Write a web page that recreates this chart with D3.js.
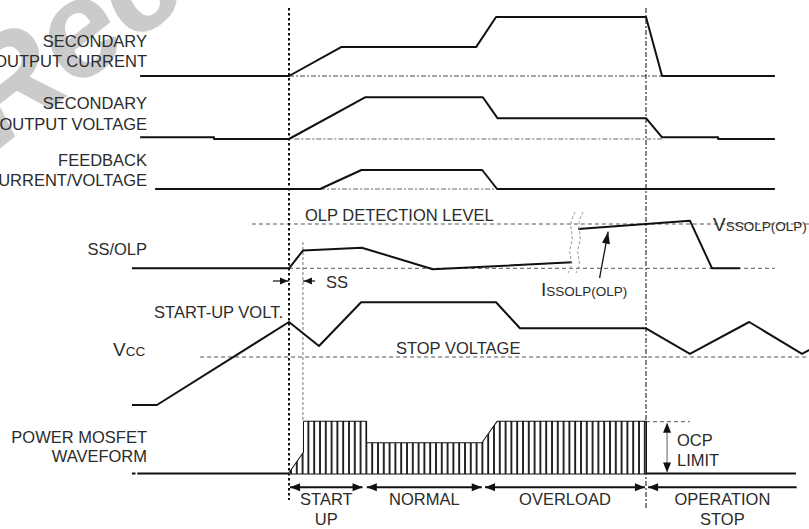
<!DOCTYPE html>
<html><head><meta charset="utf-8">
<script src="https://cdn.jsdelivr.net/npm/d3@7"></script>
<style>
body{margin:0;background:#fff;}
svg{display:block;}
text{font-family:"Liberation Sans",Arial,sans-serif;fill:#2b2b2b;}
</style>
</head><body>
<svg id="c" width="809" height="529"></svg>
<script>
// ---------- DATA (time unit: 0 = start-up, 100 = operation stop; level: 0 = low, 1 = high) ----------
const rowLabels = [["SECONDARY","OUTPUT CURRENT"],["SECONDARY","OUTPUT VOLTAGE"],["FEEDBACK","CURRENT/VOLTAGE"],["SS/OLP"],["POWER MOSFET","WAVEFORM"]];
const currentWave  = [[-41.7,0],[0,0],[14.6,0.49],[52.4,0.49],[58,1],[100,1],[104.5,0],[136.1,0]];
const voltageWave  = [[-41.7,0.04],[-21,0.04],[-21,0],[0,0],[21.3,1],[54.3,1],[58.4,0.5],[100,0.5],[104.5,0.04],[120.2,0.04],[120.2,0],[136.1,0]];
const feedbackWave = [[-37.5,0],[8.7,0],[20.3,1],[54.1,1],[58.3,0],[136.1,0]];
const ssolpWaveA   = [[-44,0],[0,0],[3.9,0.40],[20.4,0.465],[40.3,-0.02],[79.3,0.135]];
const ssolpWaveB   = [[81,0.887],[112.3,1.075],[118.5,0],[126.3,0]];
const vccWave      = [[-44,-1.371],[-37,-1.371],[0,1],[8.4,0.314],[20.2,1.563],[58,1.563],[64.7,0.82],[100,0.82],[112.3,0.09],[128.9,1],[143.7,0.09],[147,0.27]];
const mosfetEnvelope = [[0,0],[4.2,0.41],[4.2,1],[21.6,1],[21.6,0.583],[54.1,0.583],[58.4,1],[100,1],[100,0]];
const mosfetEdges  = [4.2,21.6,54.1,58.4,100];
const mosfetBase   = [-42.5,142];
const phases = [
  {label:["START","UP"], from:0.3, to:20.6, heads:2},
  {label:["NORMAL"], from:21.8, to:54.0, heads:2},
  {label:["OVERLOAD"], from:54.9, to:99.7, heads:2},
  {label:["OPERATION","STOP"], from:100.6, to:142.2, heads:1}
];
const events = {startUp:0, ssEnd:3.9, stop:100};
const guideLevels = {olpFrom:-10.4, olpTo:146, stopFrom:-24.9, stopTo:146};
const annotations = {olp:"OLP DETECTION LEVEL", stopV:"STOP VOLTAGE", startV:"START-UP VOLT.", ss:"SS", ocp:["OCP","LIMIT"]};
const watermark = ["Not","Recommended"];

// ---------- SCALES ----------
const svg = d3.select("#c");
const x = d3.scaleLinear().domain([0,100]).range([289,646]);
const rowScale = (base, top) => d3.scaleLinear().domain([0,1]).range([base, top]);
const yCur = rowScale(76,17), yVol = rowScale(139,97.3), yFb = rowScale(189,170),
      ySs = rowScale(268.3,224), yVcc = rowScale(357,322), yMos = rowScale(473.5,421.7);
const lineOf = ys => d3.line().x(d=>x(d[0])).y(d=>ys(d[1]));

// ---------- DEFS ----------
const defs = svg.append("defs");
const pat = defs.append("pattern").attr("id","hatch").attr("patternUnits","userSpaceOnUse")
  .attr("width",5.8).attr("height",10);
pat.append("rect").attr("width",5.8).attr("height",10).attr("fill","#fff");
pat.append("line").attr("x1",1).attr("x2",1).attr("y1",0).attr("y2",10).attr("stroke","#111").attr("stroke-width",1.8);

// ---------- WATERMARK ----------
const wm = svg.append("g").attr("transform","translate(-2,150) rotate(-38)")
  .style("font-family","'Liberation Serif',serif").style("font-weight","bold").style("font-style","italic")
  .style("font-size","135px");
wm.append("text").text(watermark[0]).attr("x",-34).attr("text-anchor","end").style("fill","#cbcbcb");
wm.append("text").text(watermark[1]).attr("x",0).style("fill","#cbcbcb");

// ---------- GUIDES ----------
const g = svg.append("g");
const dashDot = "5,2,2,2";
function hline(t0,t1,y,dash,col,w){
  g.append("line").attr("x1",x(t0)).attr("x2",x(t1)).attr("y1",y).attr("y2",y)
   .attr("stroke",col||"#444").attr("stroke-width",w||1).attr("stroke-dasharray",dash);
}
hline(0,104.5,yCur(0),dashDot);
hline(1.5,104.5,yVol(0),dashDot,"#666");
hline(8.7,58.3,yFb(0),dashDot,"#666");
hline(0,136.1,ySs(0),"4,3","#555");
hline(guideLevels.olpFrom,guideLevels.olpTo,ySs(1),"4,3","#555");
hline(guideLevels.stopFrom,guideLevels.stopTo,yVcc(0),"4,3","#555");
hline(100,112.3,yMos(1),"4,3","#555");

// vertical event lines
g.append("line").attr("x1",x(events.startUp)).attr("x2",x(events.startUp)).attr("y1",8).attr("y2",500)
  .attr("stroke","#111").attr("stroke-width",2).attr("stroke-dasharray","2.5,2.5");
g.append("line").attr("x1",x(events.ssEnd)).attr("x2",x(events.ssEnd)).attr("y1",242).attr("y2",421)
  .attr("stroke","#777").attr("stroke-width",1).attr("stroke-dasharray","3,2");
g.append("line").attr("x1",x(events.stop)).attr("x2",x(events.stop)).attr("y1",8).attr("y2",510)
  .attr("stroke","#222").attr("stroke-width",1.1).attr("stroke-dasharray",dashDot);

// ---------- WAVEFORMS ----------
const w = svg.append("g").attr("fill","none").attr("stroke","#111").attr("stroke-width",2).attr("stroke-linejoin","round");
w.append("path").attr("d",lineOf(yCur)(currentWave));
w.append("path").attr("d",lineOf(yVol)(voltageWave));
w.append("path").attr("d",lineOf(yFb)(feedbackWave));
w.append("path").attr("d",lineOf(ySs)(ssolpWaveA));
w.append("path").attr("d",lineOf(ySs)(ssolpWaveB));
w.append("path").attr("d",lineOf(yVcc)(vccWave));

// break squiggles
const sq = d3.line().curve(d3.curveBasis);
[0,8].forEach(o=>{
  svg.append("path").attr("d",sq([[575+o,212],[569+o,224],[574+o,238],[568+o,252],[573+o,263],[568+o,273]]))
    .attr("fill","none").attr("stroke","#999").attr("stroke-width",1).attr("stroke-dasharray","3,2");
});

// MOSFET
svg.append("path").attr("d",lineOf(yMos)(mosfetEnvelope)+"Z").attr("fill","url(#hatch)").attr("stroke","none");
w.append("path").attr("d",lineOf(yMos)(mosfetEnvelope));
w.append("line").attr("x1",x(-44)).attr("x2",x(-43)).attr("y1",yMos(0)).attr("y2",yMos(0));
w.append("line").attr("x1",x(mosfetBase[0])).attr("x2",x(mosfetBase[1])).attr("y1",yMos(0)).attr("y2",yMos(0));
mosfetEdges.forEach(t=>{
  const top = t===54.1 ? 0.583 : 1;
  w.append("line").attr("x1",x(t)).attr("x2",x(t)).attr("y1",yMos(0)).attr("y2",yMos(top)).attr("stroke-width",1.8);
});

// ---------- ARROWS ----------
function head(px,py,ang,len,hw){
  const c=Math.cos(ang), s=Math.sin(ang);
  const bx=px-len*c, by=py-len*s;
  svg.append("path").attr("d",`M${px},${py}L${bx-hw*s},${by+hw*c}L${bx+hw*s},${by-hw*c}Z`).attr("fill","#111");
}
const phaseY = 487.3;
phases.forEach(p=>{
  svg.append("line").attr("x1",x(p.from)).attr("x2",x(p.to)).attr("y1",phaseY).attr("y2",phaseY)
    .attr("stroke","#111").attr("stroke-width",2);
  head(x(p.from),phaseY,Math.PI,10,4);
  if(p.heads===2) head(x(p.to),phaseY,0,10,4);
  const cx = x((p.from+p.to)/2);
  p.label.forEach((l,i)=>{
    svg.append("text").text(l).attr("x",cx).attr("y",499+i*20).attr("text-anchor","middle")
      .attr("dominant-baseline","central").style("font-size","16.5px");
  });
});

// SS arrows
svg.append("line").attr("x1",x(-4.5)).attr("x2",x(0)).attr("y1",281).attr("y2",281).attr("stroke","#111").attr("stroke-width",1.2);
head(x(0)-1,281,0,8,3.5);
svg.append("line").attr("x1",x(3.9)).attr("x2",x(7.3)).attr("y1",281).attr("y2",281).attr("stroke","#111").attr("stroke-width",1.2);
head(x(3.9)+1,281,Math.PI,8,3.5);

// OCP arrow
const ocpX = x(105.9);
svg.append("line").attr("x1",ocpX).attr("x2",ocpX).attr("y1",yMos(1)+2).attr("y2",yMos(0)-2).attr("stroke","#777").attr("stroke-width",1.2);
head(ocpX,yMos(1)+1,-Math.PI/2,10,4);
head(ocpX,yMos(0)-1,Math.PI/2,10,4);

// ISSOLP arrow
const ia=[x(87.0),ySs(-0.219)], ib=[x(89.4),ySs(0.826)];
svg.append("line").attr("x1",ia[0]).attr("y1",ia[1]).attr("x2",ib[0]).attr("y2",ib[1]).attr("stroke","#111").attr("stroke-width",1.3);
head(ib[0],ib[1],Math.atan2(ib[1]-ia[1],ib[0]-ia[0]),12,4);

// ---------- TEXT ----------
const labelY = [[41,61],[103,124],[160,180],[249],[437,456]];
rowLabels.forEach((ls,i)=>ls.forEach((l,j)=>{
  svg.append("text").text(l).attr("x",147).attr("y",labelY[i][j]).attr("text-anchor","end")
    .attr("dominant-baseline","central").style("font-size","16.5px");
}));
function txt(s,px,py,anchor,size){
  return svg.append("text").text(s).attr("x",px).attr("y",py).attr("text-anchor",anchor||"start")
    .attr("dominant-baseline","central").style("font-size",(size||16.5)+"px");
}
txt(annotations.olp,305,215);
txt(annotations.stopV,396,348);
txt(annotations.startV,283,312,"end");
txt(annotations.ss,326,282);
txt(annotations.ocp[0],677,439.5);
txt(annotations.ocp[1],677,459.5);

function subText(main,sub,px,py){
  const t = svg.append("text").attr("x",px).attr("y",py).attr("dominant-baseline","central");
  t.append("tspan").text(main).style("font-size","19px");
  t.append("tspan").text(sub).style("font-size","13.5px").attr("dy",1.5);
  return t;
}
subText("V","CC",113,349);
subText("V","SSOLP(OLP)",713,224);
subText("I","SSOLP(OLP)",541,289);
</script>
</body></html>
